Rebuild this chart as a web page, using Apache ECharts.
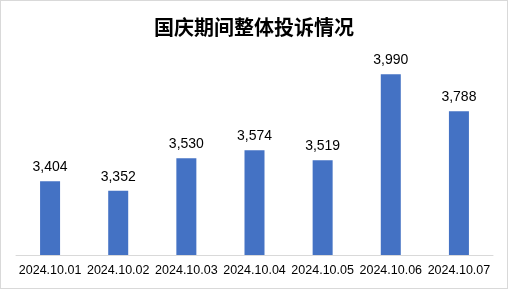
<!DOCTYPE html>
<html>
<head>
<meta charset="utf-8">
<script src="https://cdn.jsdelivr.net/npm/echarts@6/dist/echarts.min.js"></script>
<style>
  html, body { margin: 0; padding: 0; background: #fff; }
  #chart { width: 506px; height: 287px; border: 1px solid #d9d9d9; }
</style>
</head>
<body>
<div id="chart"></div>
<script>
// 国庆期间整体投诉情况
const dates = ['2024.10.01', '2024.10.02', '2024.10.03', '2024.10.04', '2024.10.05', '2024.10.06', '2024.10.07'];
const complaints = [3404, 3352, 3530, 3574, 3519, 3990, 3788];

const chart = echarts.init(document.getElementById('chart'));
chart.setOption({
  animation: false,
  title: {
    text: '国庆期间整体投诉情况',
    left: 'center',
    top: 11,
    textStyle: {
      fontFamily: 'Noto Sans CJK SC',
      fontSize: 20,
      fontWeight: 'bold',
      color: '#000'
    }
  },
  grid: { left: 15, right: 14, top: 35, bottom: 33 },
  xAxis: {
    type: 'category',
    data: dates,
    axisTick: { show: false },
    axisLine: { lineStyle: { color: '#d9d9d9' } },
    axisLabel: {
      interval: 0,
      margin: 9,
      fontFamily: 'Liberation Sans',
      fontSize: 12.5,
      color: '#000'
    }
  },
  yAxis: {
    type: 'value',
    min: 3000,
    max: 4200,
    show: false,
    splitLine: { show: false }
  },
  series: [{
    type: 'bar',
    data: complaints,
    barWidth: 20,
    itemStyle: { color: '#4472c4' },
    label: {
      show: true,
      position: 'top',
      distance: 7,
      fontFamily: 'Liberation Sans',
      fontSize: 14,
      color: '#000',
      formatter: p => p.value.toLocaleString('en-US')
    }
  }]
});
</script>
</body>
</html>
